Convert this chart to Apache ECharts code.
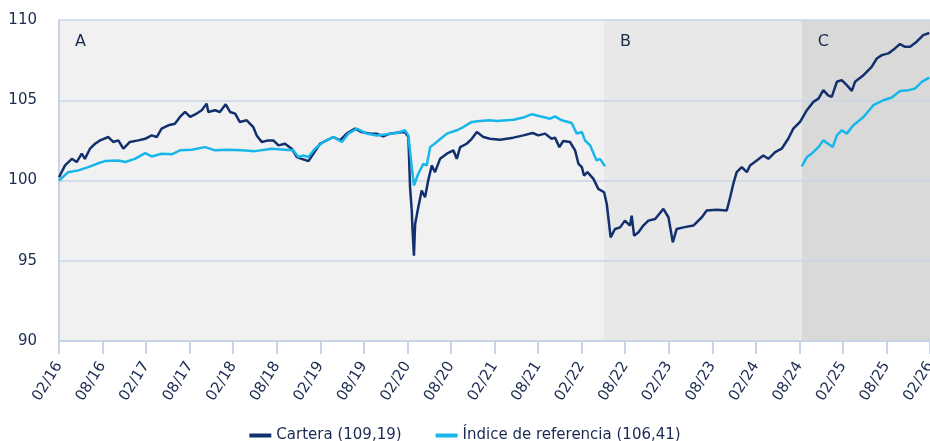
<!DOCTYPE html>
<html style="height: 100%">
<head>
    <meta charset="utf-8">
</head>
<body style="height: 100%; margin: 0; background: #fff">
<div id="container" style="width: 930px; height: 441px"></div>
<script type="text/javascript" src="https://cdn.jsdelivr.net/npm/echarts@6/dist/echarts.min.js"></script>
<script type="text/javascript">
  // tick labels, every 6 months from 02/16
  const tickLabels = ['02/16', '08/16', '02/17', '08/17', '02/18', '08/18', '02/19', '08/19', '02/20', '08/20',
    '02/21', '08/21', '02/22', '08/22', '02/23', '08/23', '02/24', '08/24', '02/25', '08/25', '02/26'];

  // periods (shaded bands)
  const periodNames = ['A', 'B', 'C'];
  const periodStarts = ['2016-02-01', '2022-05-04', '2024-08-11'];
  const periodEnds = ['2022-05-04', '2024-08-11', '2026-02-01'];

  // Cartera
  const cartDates = ['2016-02-01', '2016-02-26', '2016-03-24', '2016-04-14', '2016-05-05', '2016-05-18', '2016-06-09', '2016-06-30',
    '2016-07-21', '2016-08-25', '2016-09-15', '2016-10-06', '2016-10-27', '2016-11-24', '2016-12-29', '2017-01-27',
    '2017-02-24', '2017-03-15', '2017-04-05', '2017-05-03', '2017-05-30', '2017-06-21', '2017-07-12', '2017-08-03',
    '2017-08-30', '2017-09-21', '2017-10-11', '2017-10-18', '2017-11-16', '2017-12-06', '2017-12-30', '2018-01-18',
    '2018-02-09', '2018-02-28', '2018-03-27', '2018-04-24', '2018-05-08', '2018-05-29', '2018-06-26', '2018-07-17',
    '2018-08-08', '2018-09-05', '2018-10-03', '2018-10-24', '2018-11-14', '2018-12-12', '2019-01-02', '2019-01-30',
    '2019-02-27', '2019-03-25', '2019-04-23', '2019-05-20', '2019-06-24', '2019-07-22', '2019-08-27', '2019-09-24',
    '2019-10-21', '2019-11-19', '2019-12-17', '2020-01-21', '2020-02-05', '2020-02-12', '2020-02-19', '2020-02-22',
    '2020-02-28', '2020-03-03', '2020-03-16', '2020-03-30', '2020-04-14', '2020-04-27', '2020-05-12', '2020-05-25',
    '2020-06-16', '2020-07-14', '2020-08-11', '2020-08-25', '2020-09-09', '2020-10-06', '2020-10-27', '2020-11-18',
    '2020-12-15', '2021-01-12', '2021-02-24', '2021-04-19', '2021-05-30', '2021-07-09', '2021-08-02', '2021-08-30',
    '2021-09-27', '2021-10-11', '2021-10-29', '2021-11-15', '2021-12-13', '2022-01-04', '2022-01-18', '2022-02-02',
    '2022-02-11', '2022-02-25', '2022-03-20', '2022-04-10', '2022-05-04', '2022-05-15', '2022-06-01', '2022-06-19',
    '2022-07-10', '2022-07-30', '2022-08-21', '2022-08-28', '2022-09-08', '2022-09-26', '2022-10-16', '2022-11-07',
    '2022-12-05', '2023-01-09', '2023-01-30', '2023-02-18', '2023-03-04', '2023-04-02', '2023-05-13', '2023-06-18',
    '2023-07-08', '2023-08-20', '2023-10-01', '2023-10-15', '2023-10-28', '2023-11-12', '2023-12-03', '2023-12-24',
    '2024-01-07', '2024-02-05', '2024-03-02', '2024-03-23', '2024-04-21', '2024-05-18', '2024-06-15', '2024-07-06',
    '2024-08-04', '2024-09-02', '2024-09-29', '2024-10-20', '2024-11-10', '2024-11-30', '2024-12-15', '2025-01-06',
    '2025-01-26', '2025-02-17', '2025-03-08', '2025-03-21', '2025-04-26', '2025-05-30', '2025-06-21', '2025-07-12',
    '2025-08-09', '2025-09-06', '2025-09-27', '2025-10-18', '2025-11-09', '2025-12-06', '2026-01-03', '2026-01-28'];
  const cartValues = [100.2, 100.94, 101.35, 101.15, 101.67, 101.35, 101.98, 102.29,
    102.5, 102.71, 102.4, 102.5, 101.98, 102.4, 102.5, 102.6,
    102.81, 102.71, 103.23, 103.44, 103.54, 103.96, 104.27, 103.96,
    104.17, 104.38, 104.79, 104.27, 104.38, 104.27, 104.75, 104.27,
    104.17, 103.65, 103.75, 103.33, 102.81, 102.4, 102.5, 102.5,
    102.19, 102.29, 101.98, 101.46, 101.35, 101.21, 101.67, 102.29,
    102.5, 102.71, 102.5, 102.92, 103.23, 103.02, 102.92, 102.92,
    102.75, 102.92, 102.98, 103.02, 102.71, 99.58, 98.13, 97.0,
    95.31, 97.29, 98.33, 99.38, 98.96, 100.0, 100.94, 100.52,
    101.35, 101.67, 101.88, 101.35, 102.08, 102.29, 102.6, 103.02,
    102.71, 102.6, 102.54, 102.67, 102.81, 102.96, 102.81, 102.92,
    102.6, 102.67, 102.08, 102.46, 102.4, 101.88, 101.04, 100.83,
    100.31, 100.52, 100.1, 99.48, 99.27, 98.54, 96.46, 96.98,
    97.08, 97.5, 97.19, 97.81, 96.56, 96.77, 97.19, 97.5,
    97.6, 98.23, 97.71, 96.15, 96.98, 97.08, 97.19, 97.71,
    98.13, 98.17, 98.13, 98.96, 99.79, 100.52, 100.83, 100.52,
    100.94, 101.25, 101.56, 101.35, 101.77, 101.98, 102.6, 103.23,
    103.65, 104.38, 104.9, 105.1, 105.63, 105.31, 105.21, 106.15,
    106.25, 105.94, 105.58, 106.15, 106.56, 107.08, 107.6, 107.81,
    107.92, 108.23, 108.5, 108.33, 108.33, 108.65, 109.06, 109.19];

  // Índice de referencia (no data during period B)
  const idxDates = ['2016-02-01', '2016-03-09', '2016-04-21', '2016-06-02', '2016-07-07', '2016-08-11', '2016-10-06', '2016-11-04',
    '2016-12-15', '2017-01-27', '2017-02-24', '2017-04-05', '2017-05-17', '2017-06-21', '2017-08-09', '2017-10-05',
    '2017-11-16', '2018-01-11', '2018-03-06', '2018-05-01', '2018-07-10', '2018-09-05', '2018-10-09', '2018-10-30',
    '2018-11-21', '2018-12-12', '2019-01-09', '2019-02-14', '2019-03-25', '2019-04-30', '2019-05-27', '2019-07-02',
    '2019-08-13', '2019-09-24', '2019-11-06', '2019-12-17', '2020-01-21', '2020-02-05', '2020-02-19', '2020-02-28',
    '2020-03-16', '2020-04-07', '2020-04-21', '2020-05-05', '2020-06-02', '2020-07-14', '2020-08-25', '2020-09-22',
    '2020-10-27', '2020-12-01', '2021-01-12', '2021-02-10', '2021-04-19', '2021-05-30', '2021-07-05', '2021-08-09',
    '2021-09-21', '2021-10-11', '2021-11-09', '2021-12-20', '2022-01-11', '2022-02-02', '2022-02-15', '2022-03-06',
    '2022-04-03', '2022-04-17', '2022-05-08', '2023-06-01',
    '2024-08-11', '2024-09-02', '2024-09-22', '2024-10-20', '2024-11-10', '2024-11-30', '2024-12-19', '2025-01-06',
    '2025-01-26', '2025-02-17', '2025-03-14', '2025-04-26', '2025-06-07', '2025-07-18', '2025-08-23', '2025-09-27',
    '2025-11-02', '2025-11-29', '2025-12-27', '2026-01-28'];
  const idxValues = [100.0, 100.52, 100.63, 100.83, 101.04, 101.21, 101.25, 101.15,
    101.35, 101.71, 101.5, 101.67, 101.63, 101.88, 101.92, 102.08,
    101.88, 101.92, 101.88, 101.83, 101.98, 101.92, 101.88, 101.46,
    101.56, 101.46, 101.98, 102.4, 102.71, 102.4, 102.92, 103.23,
    102.92, 102.81, 102.88, 102.96, 103.13, 102.81, 100.83, 99.69,
    100.42, 101.04, 100.94, 102.08, 102.4, 102.92, 103.13, 103.33,
    103.65, 103.71, 103.75, 103.71, 103.79, 103.92, 104.13, 104.0,
    103.85, 104.0, 103.75, 103.58, 102.92, 103.02, 102.5, 102.19,
    101.25, 101.35, 100.88, null,
    100.88, 101.46, 101.67, 102.08, 102.5, 102.29, 102.08, 102.81,
    103.13, 102.92, 103.44, 103.96, 104.69, 105.0, 105.17, 105.58,
    105.63, 105.73, 106.15, 106.41];

  // months since 02/2016
  function monthsOf (s) {
    const p = s.split('-').map(Number);
    return (p[0] - 2016) * 12 + (p[1] - 2) + (p[2] - 1) / 30;
  }
  function toSeries (dates, values) {
    return dates.map((d, i) => [monthsOf(d), values[i] === null ? '-' : values[i]]);
  }

  const textColor = '#1b2a52';
  const lineColor = '#c8d4e6';
  const font = 'DejaVu Sans';
  const bandColors = ['#f1f1f1', '#e8e8e8', '#d9d9d9'];

  var dom = document.getElementById('container');
  var myChart = echarts.init(dom);
  var option = {
    animation: false,
    textStyle: { fontFamily: font },
    grid: { left: 59, right: 0, top: 20, bottom: 100, outerBoundsMode: 'none', containLabel: false },
    legend: {
      top: 423,
      left: 'center',
      itemWidth: 22,
      itemHeight: 4,
      itemGap: 34,
      icon: 'rect',
      textStyle: { color: textColor, fontSize: 15, fontFamily: font },
      data: ['Cartera (109,19)', 'Índice de referencia (106,41)']
    },
    xAxis: {
      type: 'value',
      min: 0,
      max: 120,
      interval: 6,
      axisLine: { show: true, lineStyle: { color: lineColor, width: 2 } },
      axisTick: { show: true, length: 13, lineStyle: { color: lineColor, width: 2 } },
      splitLine: { show: false },
      axisLabel: {
        rotate: 58,
        margin: 22,
        color: textColor,
        fontSize: 15,
        fontFamily: font,
        formatter: v => tickLabels[Math.round(v / 6)]
      }
    },
    yAxis: {
      type: 'value',
      min: 90,
      max: 110,
      interval: 5,
      axisLine: { show: true, lineStyle: { color: lineColor, width: 2 } },
      axisTick: { show: false },
      splitLine: { lineStyle: { color: lineColor, width: 1.5 } },
      axisLabel: { color: textColor, fontSize: 15, margin: 22, fontFamily: font }
    },
    series: [
      {
        name: 'Cartera (109,19)',
        type: 'line',
        showSymbol: false,
        color: '#12306d',
        lineStyle: { width: 2.5, color: '#12306d' },
        data: toSeries(cartDates, cartValues),
        markArea: {
          silent: true,
          z: -1,
          label: {
            show: true,
            position: 'insideTopLeft',
            distance: 14,
            offset: [2, 0],
            color: textColor,
            fontSize: 16,
            fontFamily: font
          },
          data: periodNames.map((n, i) => [
            { name: n, xAxis: monthsOf(periodStarts[i]), yAxis: 90, itemStyle: { color: bandColors[i] } },
            { xAxis: monthsOf(periodEnds[i]), yAxis: 110 }
          ])
        }
      },
      {
        name: 'Índice de referencia (106,41)',
        type: 'line',
        showSymbol: false,
        color: '#17b6ea',
        lineStyle: { width: 2.5, color: '#17b6ea' },
        data: toSeries(idxDates, idxValues)
      }
    ]
  };
  myChart.setOption(option);
</script>
</body>
</html>
